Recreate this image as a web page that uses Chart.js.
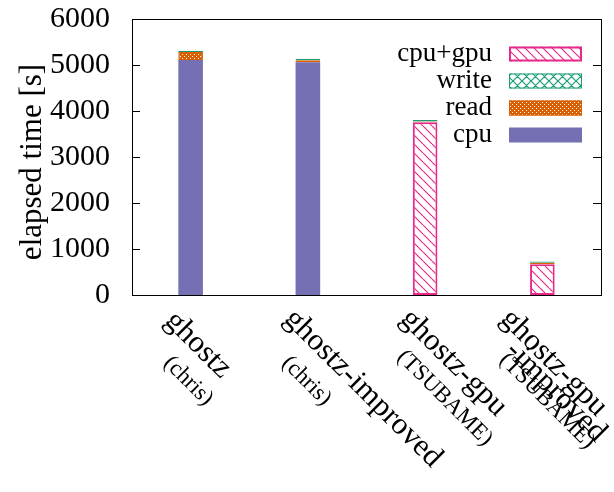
<!DOCTYPE html>
<html><head><meta charset="utf-8">
<script src="https://cdn.jsdelivr.net/npm/chart.js@4/dist/chart.umd.min.js"></script>
<style>html,body{margin:0;padding:0;background:#fff}#wrap{width:614px;height:492px}</style>
</head><body><div id="wrap"><canvas id="c" width="614" height="492"></canvas></div>
<script>
// ---- data ----
const categories = [["ghostz","(chris)"],["ghostz-improved","(chris)"],["ghostz-gpu","(TSUBAME)"],["ghostz-gpu","-improved","(TSUBAME)"]];
const seriesNames = ["cpu","cpu+gpu","read","write"];
const cpuValues = [5110, 5060, null, null];
const cpuGpuValues = [null, null, 3756, 669];
const readValues = [170, 45, 15, 30];
const writeValues = [30, 30, 35, 30];
const yTickValues = [0, 1000, 2000, 3000, 4000, 5000, 6000];
const yTitle = "elapsed time [s]";

// ---- styles ----
const FONT = '"Liberation Serif", "Times New Roman", serif';
const PURPLE = '#7570b3', PINK = '#e7298a', ORANGE = '#d95f02', GREEN = '#1b9e77';
const canvas = document.getElementById('c');
const mainCtx = canvas.getContext('2d');

function makePattern(kind, color) {
  const s = kind === 'checker' ? 4 : 9;
  const c = document.createElement('canvas'); c.width = s; c.height = s;
  const g = c.getContext('2d');
  g.fillStyle = '#fff'; g.fillRect(0, 0, s, s);
  if (kind === 'checker') {
    g.fillStyle = color; g.fillRect(0, 0, s, s);
    g.fillStyle = '#fff'; g.fillRect(0, 0, 1, 1); g.fillRect(2, 2, 1, 1);
  } else {
    g.strokeStyle = color; g.lineWidth = 1.2; g.beginPath();
    for (let k = -1; k <= 1; k++) {
      g.moveTo(k * s, 0); g.lineTo(k * s + s, s);
      if (kind === 'cross') { g.moveTo(k * s, s); g.lineTo(k * s + s, 0); }
    }
    g.stroke();
  }
  return mainCtx.createPattern(c, 'repeat');
}
const diagPat = makePattern('diag', PINK);
const crossPat = makePattern('cross', GREEN);
const checkPat = makePattern('checker', ORANGE);

// label placement (baseline start relative to tick, font size)
const labelLayout = [
  [[-27, 322, 31], [-28, 364, 23]],
  [[-25, 320, 31], [-27, 364, 23]],
  [[-26, 320, 31], [-29, 358, 23]],
  [[-43, 320, 31], [-38, 352, 31], [-44, 361, 23]]
];

const decor = {
  id: 'decor',
  afterDraw(chart) {
    const ctx = chart.ctx, ca = chart.chartArea;
    const xs = chart.scales.x, ys = chart.scales.y;
    ctx.save();
    // frame
    ctx.strokeStyle = '#000'; ctx.lineWidth = 1;
    ctx.strokeRect(ca.left + 0.5, ca.top + 0.5, ca.right - ca.left, ca.bottom - ca.top);
    // inward y ticks
    ctx.beginPath();
    yTickValues.forEach(v => {
      const y = Math.round(ys.getPixelForValue(v)) + 0.5;
      ctx.moveTo(ca.left, y); ctx.lineTo(ca.left + 8, y);
      ctx.moveTo(ca.right, y); ctx.lineTo(ca.right - 8, y);
    });
    ctx.stroke();
    // y title
    ctx.save();
    ctx.translate(33, (ca.top + ca.bottom) / 2 + 5);
    ctx.rotate(-Math.PI / 2);
    ctx.fillStyle = '#000'; ctx.font = '31px ' + FONT;
    ctx.textAlign = 'center'; ctx.textBaseline = 'middle';
    ctx.fillText(yTitle, 0, 0);
    ctx.restore();
    // x labels
    ctx.fillStyle = '#000'; ctx.textAlign = 'left'; ctx.textBaseline = 'alphabetic';
    categories.forEach((lines, i) => {
      const t = xs.getPixelForValue(i);
      lines.forEach((txt, j) => {
        const [dx, y, fs] = labelLayout[i][j];
        ctx.save();
        ctx.translate(t + dx, y);
        ctx.rotate(Math.PI / 4);
        ctx.font = fs + 'px ' + FONT;
        ctx.fillText(txt, 0, 0);
        ctx.restore();
      });
    });
    // legend
    const order = [1, 3, 2, 0];
    ctx.font = '27px ' + FONT; ctx.textAlign = 'right'; ctx.textBaseline = 'middle';
    order.forEach((di, r) => {
      const ds = chart.data.datasets[di];
      const cy = ca.top + 35 + r * 27;
      ctx.fillStyle = '#000';
      ctx.fillText(ds.label, ca.right - 109, cy);
      const x0 = ca.right - 92, w = 73, h = 15, y0 = cy - h / 2;
      ctx.fillStyle = ds.backgroundColor;
      ctx.fillRect(x0, y0, w, h);
      if (ds.borderWidth) {
        ctx.strokeStyle = ds.borderColor; ctx.lineWidth = ds.borderWidth;
        ctx.strokeRect(x0 + ds.borderWidth / 2, y0 + ds.borderWidth / 2, w - ds.borderWidth, h - ds.borderWidth);
      }
    });
    ctx.restore();
  }
};

new Chart(canvas, {
  type: 'bar',
  data: {
    labels: categories.map(l => l.join(' ')),
    datasets: [
      { label: seriesNames[0], data: cpuValues, backgroundColor: PURPLE, borderColor: PURPLE, borderWidth: 0 },
      { label: seriesNames[1], data: cpuGpuValues, backgroundColor: diagPat, borderColor: PINK, borderWidth: 2 },
      { label: seriesNames[2], data: readValues, backgroundColor: checkPat, borderColor: ORANGE, borderWidth: 1 },
      { label: seriesNames[3], data: writeValues, backgroundColor: crossPat, borderColor: GREEN, borderWidth: 1 }
    ]
  },
  options: {
    responsive: false, animation: false, devicePixelRatio: 1,
    layout: { padding: { top: 19, right: 13, left: 0, bottom: 0 } },
    datasets: { bar: { barPercentage: 0.21, categoryPercentage: 1, borderSkipped: false } },
    plugins: { legend: { display: false }, tooltip: { enabled: false } },
    scales: {
      x: {
        stacked: true, offset: true,
        grid: { display: false, drawTicks: false }, border: { display: false },
        ticks: { display: false },
        afterFit(s) { s.height = 197; s.paddingLeft = 0; s.paddingRight = 0; }
      },
      y: {
        stacked: true, min: 0, max: 6000,
        afterBuildTicks(s) { s.ticks = yTickValues.map(v => ({ value: v })); },
        ticks: { color: '#000', font: { family: FONT, size: 30 }, padding: 22, callback: v => String(v) },
        grid: { display: false, drawTicks: false }, border: { display: false },
        title: { display: false, text: yTitle },
        afterFit(s) { s.width = 132; s.paddingTop = 0; s.paddingBottom = 0; }
      }
    }
  },
  plugins: [decor]
});
</script>
</body></html>
